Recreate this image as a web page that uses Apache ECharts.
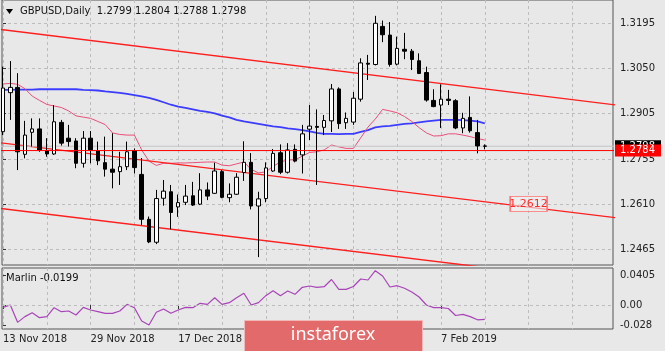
<!DOCTYPE html>
<html>
<head>
<meta charset="utf-8">
<script src="https://cdn.jsdelivr.net/npm/echarts@6/dist/echarts.min.js"></script>
<style>
  html, body { margin: 0; padding: 0; background: #e8e8e8; }
  #chart { width: 665px; height: 351px; }
</style>
</head>
<body>
<div id="chart"></div>
<script>
// chart data, one entry per daily bar (index 0 = 13 Nov 2018)
const symbol = 'GBPUSD'
const period = 'Daily'
const xLabelBars = [0, 12, 24, 60]
const xLabels = ['13 Nov 2018', '29 Nov 2018', '17 Dec 2018', '7 Feb 2019']
const gridBars = [0, 6, 12, 18, 24, 30, 36, 42, 48, 54, 60, 66, 72, 78]
const priceTicks = [1.3195, 1.3050, 1.2905, 1.2755, 1.2610, 1.2465]
const marlinTicks = [0.0405, 0, -0.028]
const marlinTickLabels = ['0.0405', '0.00', '-0.028']

const openData = [1.2845, 1.2971, 1.2988, 1.2772, 1.2843, 1.2854, 1.2784, 1.2773, 1.2875, 1.2824,
  1.2815, 1.2743, 1.2824, 1.2784, 1.2745, 1.2724, 1.2716, 1.2732, 1.2784, 1.2707,
  1.2562, 1.2488, 1.2630, 1.2651, 1.2602, 1.2617, 1.2638, 1.2611, 1.2657, 1.2646,
  1.2716, 1.2632, 1.2643, 1.2713, 1.2746, 1.2605, 1.2629, 1.2718, 1.2777, 1.2714,
  1.2788, 1.2770, 1.2853, 1.2862, 1.2859, 1.2880, 1.2983, 1.2874, 1.2876, 1.2950,
  1.3066, 1.3062, 1.3185, 1.3157, 1.3063, 1.3111, 1.3105, 1.3074, 1.3036, 1.2946,
  1.2931, 1.2950, 1.2945, 1.2857, 1.2891, 1.2842, 1.2799]
const highData = [1.3055, 1.3073, 1.3034, 1.2880, 1.2888, 1.2888, 1.2824, 1.2931, 1.2883, 1.2867,
  1.2824, 1.2847, 1.2847, 1.2813, 1.2829, 1.2840, 1.2780, 1.2813, 1.2791, 1.2760,
  1.2571, 1.2657, 1.2689, 1.2673, 1.2642, 1.2673, 1.2683, 1.2711, 1.2681, 1.2745,
  1.2721, 1.2678, 1.2711, 1.2814, 1.2776, 1.2651, 1.2746, 1.2789, 1.2804, 1.2808,
  1.2804, 1.2867, 1.2931, 1.2917, 1.2899, 1.2999, 1.2988, 1.2907, 1.2973, 1.3082,
  1.3093, 1.3219, 1.3204, 1.3199, 1.3152, 1.3164, 1.3112, 1.3098, 1.3055, 1.2982,
  1.2998, 1.2980, 1.2950, 1.2906, 1.2959, 1.2883, 1.2804]
const lowData = [1.2834, 1.2883, 1.2721, 1.2759, 1.2797, 1.2780, 1.2764, 1.2770, 1.2800, 1.2797,
  1.2727, 1.2729, 1.2743, 1.2737, 1.2700, 1.2662, 1.2673, 1.2721, 1.2710, 1.2544,
  1.2485, 1.2482, 1.2606, 1.2530, 1.2570, 1.2608, 1.2605, 1.2608, 1.2624, 1.2644,
  1.2630, 1.2617, 1.2641, 1.2686, 1.2594, 1.2440, 1.2617, 1.2715, 1.2708, 1.2710,
  1.2746, 1.2710, 1.2818, 1.2673, 1.2834, 1.2844, 1.2854, 1.2854, 1.2867, 1.2942,
  1.3012, 1.3059, 1.3134, 1.3055, 1.3059, 1.3079, 1.3044, 1.3031, 1.2942, 1.2924,
  1.2857, 1.2931, 1.2853, 1.2840, 1.2842, 1.2775, 1.2788]
const closeData = [1.2986, 1.2988, 1.2780, 1.2834, 1.2854, 1.2786, 1.2773, 1.2877, 1.2808, 1.2813,
  1.2743, 1.2824, 1.2786, 1.2751, 1.2724, 1.2714, 1.2732, 1.2780, 1.2729, 1.2562,
  1.2489, 1.2629, 1.2653, 1.2584, 1.2616, 1.2637, 1.2608, 1.2657, 1.2637, 1.2718,
  1.2633, 1.2643, 1.2698, 1.2746, 1.2605, 1.2628, 1.2728, 1.2775, 1.2714, 1.2786,
  1.2750, 1.2838, 1.2863, 1.2859, 1.2881, 1.2983, 1.2871, 1.2888, 1.2953, 1.3067,
  1.3063, 1.3195, 1.3158, 1.3062, 1.3114, 1.3105, 1.3078, 1.3033, 1.2947, 1.2926,
  1.2950, 1.2946, 1.2857, 1.2888, 1.2848, 1.2799, 1.2798]

// moving averages
const maSlow = [1.2980, 1.2980, 1.2981, 1.2981, 1.2981, 1.2982, 1.2982, 1.2982, 1.2982, 1.2982,
  1.2982, 1.2980, 1.2979, 1.2978, 1.2975, 1.2973, 1.2970, 1.2967, 1.2963, 1.2959,
  1.2954, 1.2948, 1.2940, 1.2932, 1.2926, 1.2922, 1.2917, 1.2912, 1.2909, 1.2904,
  1.2897, 1.2891, 1.2883, 1.2878, 1.2874, 1.2870, 1.2866, 1.2862, 1.2860, 1.2856,
  1.2853, 1.2850, 1.2846, 1.2841, 1.2838, 1.2838, 1.2837, 1.2838, 1.2838, 1.2844,
  1.2850, 1.2859, 1.2862, 1.2864, 1.2867, 1.2870, 1.2872, 1.2875, 1.2878, 1.2881,
  1.2883, 1.2883, 1.2883, 1.2882, 1.2881, 1.2878, 1.2872]
const maFast = [1.2999, 1.3001, 1.2998, 1.2984, 1.2960, 1.2946, 1.2933, 1.2928, 1.2923, 1.2912,
  1.2896, 1.2892, 1.2888, 1.2878, 1.2868, 1.2841, 1.2836, 1.2834, 1.2834, 1.2786,
  1.2750, 1.2736, 1.2743, 1.2743, 1.2744, 1.2744, 1.2745, 1.2746, 1.2747, 1.2747,
  1.2737, 1.2735, 1.2741, 1.2747, 1.2723, 1.2712, 1.2715, 1.2733, 1.2747, 1.2754,
  1.2754, 1.2766, 1.2778, 1.2780, 1.2786, 1.2802, 1.2796, 1.2791, 1.2791, 1.2825,
  1.2860, 1.2886, 1.2917, 1.2912, 1.2906, 1.2894, 1.2878, 1.2858, 1.2841, 1.2831,
  1.2832, 1.2838, 1.2838, 1.2834, 1.2829, 1.2823, 1.2818]

// Marlin oscillator
const marlin = [-0.0032, 0.0000, -0.0240, -0.0161, -0.0106, -0.0175, -0.0161, -0.0037, -0.0092, -0.0083,
  -0.0138, -0.0032, -0.0069, -0.0092, -0.0115, -0.0115, -0.0083, 0.0009, -0.0037, -0.0221,
  -0.0277, -0.0101, -0.0055, -0.0115, -0.0069, -0.0032, -0.0037, 0.0023, 0.0009, 0.0101,
  0.0009, 0.0032, 0.0101, 0.0162, 0.0000, 0.0032, 0.0129, 0.0198, 0.0129, 0.0194,
  0.0148, 0.0245, 0.0263, 0.0245, 0.0253, 0.0353, 0.0217, 0.0217, 0.0256, 0.0360,
  0.0346, 0.0474, 0.0401, 0.0249, 0.0267, 0.0231, 0.0180, 0.0111, 0.0000, -0.0037,
  -0.0035, -0.0048, -0.0145, -0.0129, -0.0161, -0.0205, -0.0199]

// price channel (anchor bars and prices) and horizontal level
const channelBars = [-1, 84]
const channelUpper = [1.3177, 1.2931]
const channelMiddle = [1.2811, 1.2567]
const channelLower = [1.2599, 1.2355]
const channelLabelBar = 72
const channelLabelPrice = 1.2612
const levelPrice = 1.2784

const font = '"DejaVu Sans", sans-serif'
const last = closeData.length - 1
const fmt = v => v.toFixed(4)
const toPairs = arr => arr.map((v, i) => [i, v])
const channelPairs = arr => arr.map((v, i) => [channelBars[i], v])

const candles = openData.map((o, i) => [i, o, closeData[i], lowData[i], highData[i]])

const xMin = -0.137
const xMax = 83.56
const dashed = { color: '#bdbdbd', type: [3, 3], width: 1 }

// horizontal line across the main panel with a price box on the right axis
function levelLine(name, price, lineColor, boxColor, z) {
  return {
    name: name, type: 'line', xAxisIndex: 0, yAxisIndex: 0,
    data: [[channelBars[0], price], [channelBars[1], price]],
    symbol: 'none', z: z, silent: true,
    lineStyle: { color: lineColor, width: 1 },
    endLabel: {
      show: true, formatter: fmt(price), distance: 1,
      backgroundColor: boxColor, color: '#fff', padding: [1, 6, 1, 5],
      fontSize: 10, fontFamily: font
    }
  }
}

const option = {
  animation: false,
  backgroundColor: '#e8e8e8',
  textStyle: { fontFamily: font },
  grid: [
    { left: 2, right: 52, top: 0, height: 265, show: true, borderColor: '#555', borderWidth: 1 },
    { left: 2, right: 52, top: 268, height: 61, show: true, borderColor: '#555', borderWidth: 1 }
  ],
  xAxis: [
    {
      type: 'value', gridIndex: 0, min: xMin, max: xMax,
      axisLine: { show: false },
      axisLabel: { show: false },
      axisTick: { show: false, customValues: gridBars },
      splitLine: { show: true, lineStyle: dashed }
    },
    {
      type: 'value', gridIndex: 1, min: xMin, max: xMax,
      axisLine: { show: false },
      axisTick: { show: true, customValues: xLabelBars, length: 4, lineStyle: { color: '#333' } },
      axisLabel: {
        customValues: xLabelBars,
        formatter: v => xLabels[xLabelBars.indexOf(v)],
        align: 'left', margin: 5, color: '#222', fontSize: 10, fontFamily: font
      },
      splitLine: { show: false }
    },
    {
      type: 'value', gridIndex: 1, min: xMin, max: xMax,
      axisLine: { show: false },
      axisLabel: { show: false },
      axisTick: { show: false, customValues: gridBars },
      splitLine: { show: true, lineStyle: dashed }
    }
  ],
  yAxis: [
    {
      type: 'value', gridIndex: 0, position: 'right', min: 1.24145, max: 1.32702,
      axisLine: { show: false },
      axisTick: { show: true, customValues: priceTicks, length: 3, lineStyle: { color: '#333' } },
      axisLabel: { customValues: priceTicks, formatter: fmt, margin: 7, color: '#222', fontSize: 10, fontFamily: font },
      splitLine: { show: true, lineStyle: dashed }
    },
    {
      type: 'value', gridIndex: 1, position: 'right', min: -0.0332, max: 0.0512,
      axisLine: { show: false },
      axisTick: { show: true, customValues: marlinTicks, length: 3, lineStyle: { color: '#333' } },
      axisLabel: {
        customValues: marlinTicks,
        formatter: v => marlinTickLabels[marlinTicks.indexOf(v)],
        margin: 7, color: '#222', fontSize: 10, fontFamily: font
      },
      splitLine: { show: false }
    }
  ],
  series: [
    {
      name: 'MA slow', type: 'line', xAxisIndex: 0, yAxisIndex: 0,
      data: toPairs(maSlow), symbol: 'none', z: 2,
      lineStyle: { color: '#3c3cff', width: 1.8 }
    },
    {
      name: 'MA fast', type: 'line', xAxisIndex: 0, yAxisIndex: 0,
      data: toPairs(maFast), symbol: 'none', z: 2,
      lineStyle: { color: '#e8507a', width: 1 }
    },
    {
      name: 'channel upper', type: 'line', xAxisIndex: 0, yAxisIndex: 0,
      data: channelPairs(channelUpper), symbol: 'none', z: 2,
      lineStyle: { color: '#ff1e1e', width: 1.4 }
    },
    {
      name: 'channel middle', type: 'line', xAxisIndex: 0, yAxisIndex: 0,
      data: channelPairs(channelMiddle), symbol: 'none', z: 2,
      lineStyle: { color: '#ff1e1e', width: 1.4 },
      markPoint: {
        silent: true,
        data: [{
          coord: [channelLabelBar, channelLabelPrice],
          symbol: 'rect', symbolSize: [37, 15],
          itemStyle: { color: 'rgba(240,240,240,0.6)', borderColor: '#ff7070', borderWidth: 1 },
          label: { show: true, position: 'inside', formatter: fmt(channelLabelPrice), color: '#ff2a2a', fontSize: 11, fontFamily: font }
        }]
      }
    },
    {
      name: 'channel lower', type: 'line', xAxisIndex: 0, yAxisIndex: 0,
      data: channelPairs(channelLower), symbol: 'none', z: 2,
      lineStyle: { color: '#ff1e1e', width: 1.4 }
    },
    levelLine('bid', closeData[last], '#c4c4c4', '#000000', 2),
    {
      name: symbol, type: 'candlestick', xAxisIndex: 0, yAxisIndex: 0,
      data: candles, barWidth: 4, z: 3,
      itemStyle: {
        color: '#ffffff', color0: '#000000',
        borderColor: '#000000', borderColor0: '#000000', borderColorDoji: '#000000',
        borderWidth: 1
      }
    },
    levelLine('level', levelPrice, '#ff0000', '#ff0000', 4),
    {
      name: 'Marlin', type: 'line', xAxisIndex: 1, yAxisIndex: 1,
      data: toPairs(marlin), symbol: 'none',
      lineStyle: { color: '#a844b8', width: 1.2 },
      markLine: {
        silent: true, symbol: ['none', 'none'], label: { show: false },
        data: [{ yAxis: 0 }],
        lineStyle: dashed
      }
    }
  ],
  graphic: [
    { type: 'polygon', shape: { points: [[6, 9], [13, 9], [9.5, 14]] }, style: { fill: '#000' } },
    {
      type: 'text', left: 20, top: 6,
      style: {
        text: symbol + ',' + period + '  ' + [openData[last], highData[last], lowData[last], closeData[last]].map(fmt).join(' '),
        fill: '#111', font: '10px ' + font
      }
    },
    {
      type: 'text', left: 6, top: 273,
      style: { text: 'Marlin ' + fmt(marlin[last]), fill: '#111', font: '10px ' + font }
    },
    {
      type: 'rect', left: 244, top: 320, z: 100,
      shape: { width: 178, height: 31 },
      style: { fill: '#e36a6a', stroke: '#f2b7b7', lineWidth: 1 }
    },
    {
      type: 'text', x: 333, y: 335, z: 101,
      style: { text: 'instaforex', fill: '#ffffff', font: '18px "Noto Sans", sans-serif', align: 'center', verticalAlign: 'middle' }
    }
  ]
}

const myChart = echarts.init(document.getElementById('chart'))
myChart.setOption(option)
</script>
</body>
</html>
